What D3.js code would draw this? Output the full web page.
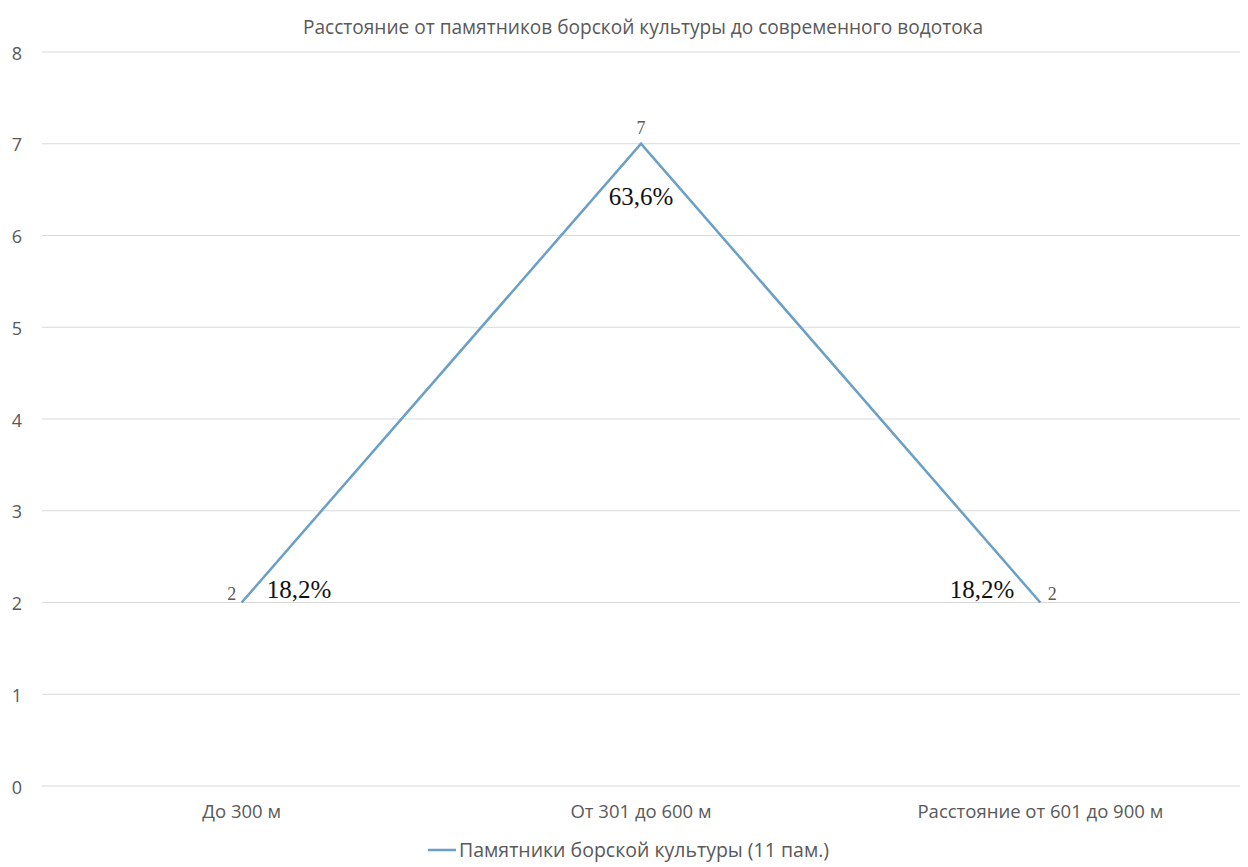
<!DOCTYPE html>
<html><head><meta charset="utf-8">
<script src="https://cdn.jsdelivr.net/npm/d3@7"></script>
<style>body{margin:0;background:#fff;} svg{display:block;}</style>
</head><body>
<script>
const title = "Расстояние от памятников борской культуры до современного водотока";
const categories = ["До 300 м", "От 301 до 600 м", "Расстояние от 601 до 900 м"];
const values = [2, 7, 2];
const percentLabels = ["18,2%", "63,6%", "18,2%"];
const seriesName = "Памятники борской культуры (11 пам.)";
const yTicks = [0, 1, 2, 3, 4, 5, 6, 7, 8];

const W = 1248, H = 867;
const svg = d3.select("body").append("svg").attr("width", W).attr("height", H);
const font = "'Open Sans', 'Noto Sans', sans-serif";

const x = d3.scaleBand().domain(categories).range([42, 1240]);
const y = d3.scaleLinear().domain([0, 8]).range([786, 52]);

svg.append("text").attr("x", 643).attr("y", 34).attr("text-anchor", "middle")
  .attr("font-family", font).attr("font-size", 19.1).attr("fill", "#595959").text(title);

// gridlines
svg.append("g").selectAll("line").data(yTicks).join("line")
  .attr("x1", 42).attr("x2", 1240)
  .attr("y1", d => y(d)).attr("y2", d => y(d))
  .attr("stroke", "#d9d9d9").attr("stroke-width", 1);

// y axis labels
const yAxis = d3.axisLeft(y).tickValues(yTicks).tickSize(0).tickPadding(0);
const gy = svg.append("g").attr("transform", "translate(17,0)").call(yAxis);
gy.select(".domain").remove();
gy.selectAll("text").attr("font-family", font).attr("font-size", 18).attr("fill", "#595959")
  .attr("text-anchor", "middle").attr("dy", "0.4em");

// x axis labels
const xAxis = d3.axisBottom(x).tickSize(0).tickPadding(0);
const gx = svg.append("g").attr("transform", "translate(0,805)").call(xAxis);
gx.select(".domain").remove();
gx.selectAll("text").attr("font-family", font).attr("font-size", 18.5).attr("fill", "#595959");

// line
const cx = d => x(d) + x.bandwidth() / 2;
const line = d3.line().x((d, i) => cx(categories[i])).y(d => y(d));
svg.append("path").datum(values).attr("d", line)
  .attr("fill", "none").attr("stroke", "#6a9fc8").attr("stroke-width", 2.5);

// value labels
const valPos = [{dx: -10, dy: -3}, {dx: 0, dy: -10}, {dx: 12, dy: -3}];
svg.append("g").selectAll("text").data(values).join("text")
  .attr("x", (d, i) => cx(categories[i]) + valPos[i].dx)
  .attr("y", (d, i) => y(d) + valPos[i].dy)
  .attr("text-anchor", "middle")
  .attr("font-family", "'Liberation Serif', serif").attr("font-size", 18).attr("fill", "#595959")
  .text(d => d);

// percent labels
const pctPos = [{dx: 25, dy: -5, a: "start"}, {dx: 0, dy: 61, a: "middle"}, {dx: -26, dy: -5, a: "end"}];
svg.append("g").selectAll("text").data(values).join("text")
  .attr("x", (d, i) => cx(categories[i]) + pctPos[i].dx)
  .attr("y", (d, i) => y(d) + pctPos[i].dy)
  .attr("text-anchor", (d, i) => pctPos[i].a)
  .attr("font-family", "'Liberation Serif', 'DejaVu Serif', serif").attr("font-size", 25).attr("fill", "#111")
  .text((d, i) => percentLabels[i]);

// legend
const lg = svg.append("g").attr("transform", "translate(428,850)");
lg.append("line").attr("x1", 0).attr("x2", 28).attr("y1", 0).attr("y2", 0)
  .attr("stroke", "#6a9fc8").attr("stroke-width", 2.5);
lg.append("text").attr("x", 31).attr("y", 7).attr("font-family", font).attr("font-size", 19.5)
  .attr("fill", "#595959").text(seriesName);
</script>
</body></html>
